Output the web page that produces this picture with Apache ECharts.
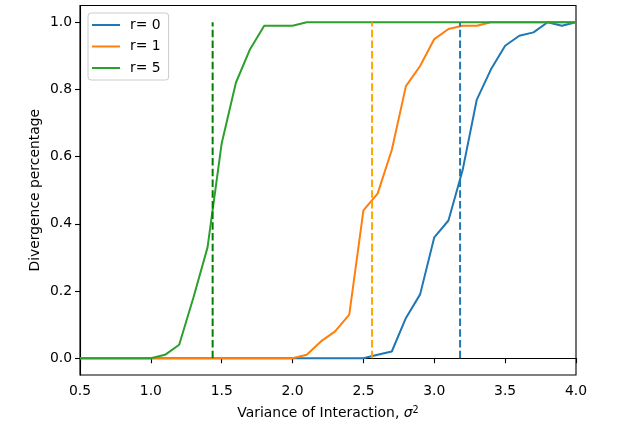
<!DOCTYPE html>
<html lang="en">
<head>
  <meta charset="UTF-8">
  <title>Divergence percentage</title>
  <script src="https://cdn.jsdelivr.net/npm/echarts@6/dist/echarts.min.js"></script>
  <style>
    html, body {margin: 0; padding: 0; background: #fff;}
    #chart {width: 640px; height: 428px;}
  </style>
</head>
<body>
  <div id="chart"></div>
  <script>
    // sigma^2 values
    var xs = [0.5, 0.6, 0.7, 0.8, 0.9, 1.0, 1.1, 1.2, 1.3, 1.4, 1.5, 1.6, 1.7, 1.8, 1.9, 2.0, 2.1, 2.2,
              2.3, 2.4, 2.5, 2.6, 2.7, 2.8, 2.9, 3.0, 3.1, 3.2, 3.3, 3.4, 3.5, 3.6, 3.7, 3.8, 3.9, 4.0];
    // divergence percentage per r
    var r0 = [0, 0, 0, 0, 0, 0, 0, 0, 0, 0, 0, 0, 0, 0, 0, 0, 0, 0,
              0, 0, 0, 0.01, 0.02, 0.12, 0.19, 0.36, 0.41, 0.56, 0.77, 0.86, 0.93, 0.96, 0.97, 1.0, 0.99, 1.0];
    var r1 = [0, 0, 0, 0, 0, 0, 0, 0, 0, 0, 0, 0, 0, 0, 0, 0, 0.01, 0.05,
              0.08, 0.13, 0.44, 0.49, 0.62, 0.81, 0.87, 0.95, 0.98, 0.99, 0.99, 1.0, 1.0, 1.0, 1.0, 1.0, 1.0, 1.0];
    var r5 = [0, 0, 0, 0, 0, 0, 0.01, 0.04, 0.18, 0.33, 0.64, 0.82, 0.92, 0.99, 0.99, 0.99, 1.0, 1.0,
              1.0, 1.0, 1.0, 1.0, 1.0, 1.0, 1.0, 1.0, 1.0, 1.0, 1.0, 1.0, 1.0, 1.0, 1.0, 1.0, 1.0, 1.0];
    // dashed critical lines (r=0, r=1, r=5)
    var critical = [3.182, 2.561, 1.436];
    var names = ['r= 0', 'r= 1', 'r= 5'];
    var yTicks = [0, 0.2, 0.4, 0.6, 0.8, 1.0];

    var colors = ['#1f77b4', '#ff7f0e', '#2ca02c'];
    var dashColors = ['#1f77b4', '#ffa500', '#008000'];
    var font = 'DejaVu Sans';

    function pairs(ys) {
      var out = [];
      for (var i = 0; i < xs.length; i++) {
        out.push([xs[i], ys[i]]);
      }
      return out;
    }

    var series = [];
    [r0, r1, r5].forEach(function(ys, i) {
      series.push({
        name: names[i],
        type: 'line',
        data: pairs(ys),
        symbol: 'none',
        lineStyle: {color: colors[i], width: 2},
        itemStyle: {color: colors[i]},
        z: 2 + i
      });
    });
    critical.forEach(function(c, i) {
      series.push({
        name: 'crit' + i,
        type: 'line',
        data: [[c, 0], [c, 1]],
        symbol: 'none',
        lineStyle: {color: dashColors[i], width: 2, type: [7.5, 3.2]},
        z: 6
      });
    });

    var myChart = echarts.init(document.getElementById('chart'));
    var option = {
      animation: false,
      backgroundColor: '#fff',
      textStyle: {fontFamily: font},
      grid: {
        left: 80, right: 64, top: 5.5, bottom: 53,
        show: true, borderColor: '#000', borderWidth: 1.1,
        backgroundColor: 'transparent'
      },
      legend: {
        data: names.map(function(n) { return {name: n, icon: 'rect'}; }),
        orient: 'vertical',
        left: 88, top: 13,
        padding: [5, 8, 5, 4],
        itemWidth: 28, itemHeight: 2, itemGap: 7.5,
        backgroundColor: 'rgba(255,255,255,0.8)',
        borderColor: '#cccccc', borderWidth: 1, borderRadius: 3,
        textStyle: {fontFamily: font, fontSize: 13.9, color: '#000', padding: [0, 0, 0, 5]}
      },
      xAxis: {
        type: 'value',
        min: 0.5, max: 4.0, interval: 0.5,
        name: 'Variance of Interaction, {i|σ}{s|2}',
        nameLocation: 'middle',
        nameGap: 30,
        nameTextStyle: {
          fontFamily: font, fontSize: 13.9, color: '#000',
          rich: {
            i: {fontFamily: font, fontSize: 13.9, fontStyle: 'italic', color: '#000'},
            s: {fontFamily: font, fontSize: 9.7, color: '#000', verticalAlign: 'top', padding: [0, 0, 6, 0]}
          }
        },
        axisLine: {lineStyle: {color: '#000', width: 1.1}},
        axisTick: {length: 5, lineStyle: {color: '#000', width: 1.1}},
        axisLabel: {
          fontFamily: font, fontSize: 13.9, color: '#000', margin: 9,
          formatter: function(v) { return v.toFixed(1); }
        },
        splitLine: {show: false}
      },
      yAxis: {
        type: 'value',
        min: -0.05, max: 1.05,
        name: 'Divergence percentage',
        nameLocation: 'middle',
        nameGap: 38,
        nameMoveOverlap: false,
        nameTextStyle: {fontFamily: font, fontSize: 13.9, color: '#000'},
        axisLine: {show: true, lineStyle: {color: '#000', width: 1.1}},
        axisTick: {show: true, length: 5, customValues: yTicks, lineStyle: {color: '#000', width: 1.1}},
        axisLabel: {
          fontFamily: font, fontSize: 13.9, color: '#000', margin: 8,
          customValues: yTicks,
          formatter: function(v) { return v.toFixed(1); }
        },
        splitLine: {show: false}
      },
      series: series
    };
    myChart.setOption(option);
  </script>
</body>
</html>
